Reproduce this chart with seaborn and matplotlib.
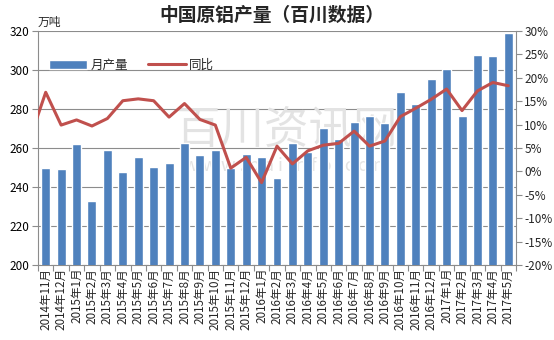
import matplotlib
matplotlib.use("Agg")
import matplotlib.pyplot as plt
import seaborn as sns
import pandas as pd
import numpy as np

months = ["2014年11月", "2014年12月", "2015年1月", "2015年2月", "2015年3月", "2015年4月",
          "2015年5月", "2015年6月", "2015年7月", "2015年8月", "2015年9月", "2015年10月",
          "2015年11月", "2015年12月", "2016年1月", "2016年2月", "2016年3月", "2016年4月",
          "2016年5月", "2016年6月", "2016年7月", "2016年8月", "2016年9月", "2016年10月",
          "2016年11月", "2016年12月", "2017年1月", "2017年2月", "2017年3月", "2017年4月",
          "2017年5月"]
output = [249.7, 249.2, 261.9, 232.6, 259.0, 247.7, 255.4, 250.3, 252.3, 262.4, 256.4, 259.0,
          249.7, 256.7, 255.4, 244.8, 262.4, 258.1, 270.1, 264.4, 273.5, 276.4, 272.6, 288.6,
          282.6, 295.2, 300.5, 276.4, 307.5, 307.0, 319.0]
yoy = [16.9, 9.9, 11.0, 9.7, 11.3, 15.1, 15.5, 15.1, 11.6, 14.5, 11.1, 9.9,
       0.7, 3.0, -2.4, 5.4, 1.6, 4.4, 5.6, 6.0, 8.6, 5.4, 6.5, 11.7,
       13.5, 15.4, 17.6, 13.0, 17.2, 19.0, 18.3]
yoy_prev_month = 7.2  # 2014年10月, only its segment is visible at left edge

left_ticks = [200, 220, 240, 260, 280, 300, 320]
right_ticks = [-20, -15, -10, -5, 0, 5, 10, 15, 20, 25, 30]

BLUE = "#4F81BD"
RED = "#C0504D"
GRID = "#8C8C8C"

sns.set_theme(style="white")
plt.rcParams["font.family"] = ["Noto Sans CJK SC", "DejaVu Sans"]

fig = plt.figure(figsize=(5.54, 3.40), dpi=100)
ax = fig.add_axes([38/554, 75/340, 478/554, 234/340])

df = pd.DataFrame({"month": months, "output": output})
sns.barplot(data=df, x="month", y="output", color=BLUE, saturation=1, width=0.58,
            ax=ax, zorder=3, label="月产量")
if ax.get_legend() is not None:
    ax.get_legend().remove()
ax.set_ylim(200, 320)
ax.set_xlim(-0.5, len(months) - 0.5)
ax.set_yticks(left_ticks)
ax.yaxis.grid(True, color=GRID, linewidth=0.8, zorder=0)
ax.set_axisbelow(True)
ax.set_xlabel("")
ax.set_ylabel("")
ax.tick_params(axis="y", labelsize=8.5, colors="#000000", length=4, width=0.8,
               direction="out", left=True, color=GRID, pad=2)
ax.set_xticks(range(len(months)))
ax.set_xticklabels(months, rotation=90, fontsize=8.4)
ax.tick_params(axis="x", length=0, pad=2)
ax.set_xticks(np.arange(len(months) + 1) - 0.5, minor=True)
ax.tick_params(axis="x", which="minor", length=4, width=0.8, color=GRID, bottom=True)
for s in ["top", "right"]:
    ax.spines[s].set_visible(False)
for s in ["left", "bottom"]:
    ax.spines[s].set_color(GRID)
    ax.spines[s].set_linewidth(0.8)

# watermark
ax.text(0.52, 0.575, "百川资讯网", transform=ax.transAxes, fontsize=32, color="#E3E3E3",
        ha="center", va="center", zorder=1)
ax.text(0.52, 0.425, "w w w . b a i i n f o . c o m", transform=ax.transAxes, fontsize=13,
        color="#E3E3E3", ha="center", va="center", zorder=1)

ax2 = ax.twinx()
line_x = list(range(-1, len(months)))
ldf = pd.DataFrame({"x": line_x, "yoy": [yoy_prev_month] + yoy})
sns.lineplot(data=ldf, x="x", y="yoy", color=RED, linewidth=2.2, ax=ax2, label="同比",
             legend=False)
ax2.set_xlim(-0.5, len(months) - 0.5)
ax2.set_ylim(-20, 30)
ax2.set_yticks(right_ticks)
ax2.set_yticklabels([f"{t}%" for t in right_ticks])
ax2.set_ylabel("")
ax2.set_xlabel("")
ax2.tick_params(axis="y", labelsize=8.5, length=4, width=0.8, direction="out",
                right=True, color=GRID, pad=2)
for s in ["top", "left", "bottom"]:
    ax2.spines[s].set_visible(False)
ax2.spines["right"].set_color(GRID)
ax2.spines["right"].set_linewidth(0.8)

h1 = [ax.patches[0]]
l1 = ["月产量"]
h2, l2 = ax2.get_legend_handles_labels()
leg = ax2.legend(h1 + h2, l1 + l2, loc="upper left", bbox_to_anchor=(0.0, 0.93), ncol=2,
                 frameon=False, fontsize=9, handlelength=3.0, handleheight=0.75,
                 columnspacing=1.6, handletextpad=0.3)

fig.text(0.49, 0.955, "中国原铝产量（百川数据）", ha="center", va="center",
         fontsize=13.5, fontweight="bold")
fig.text(38/554, 0.935, "万吨", ha="left", va="center", fontsize=8.5)

fig.savefig("out.png", dpi=100)
